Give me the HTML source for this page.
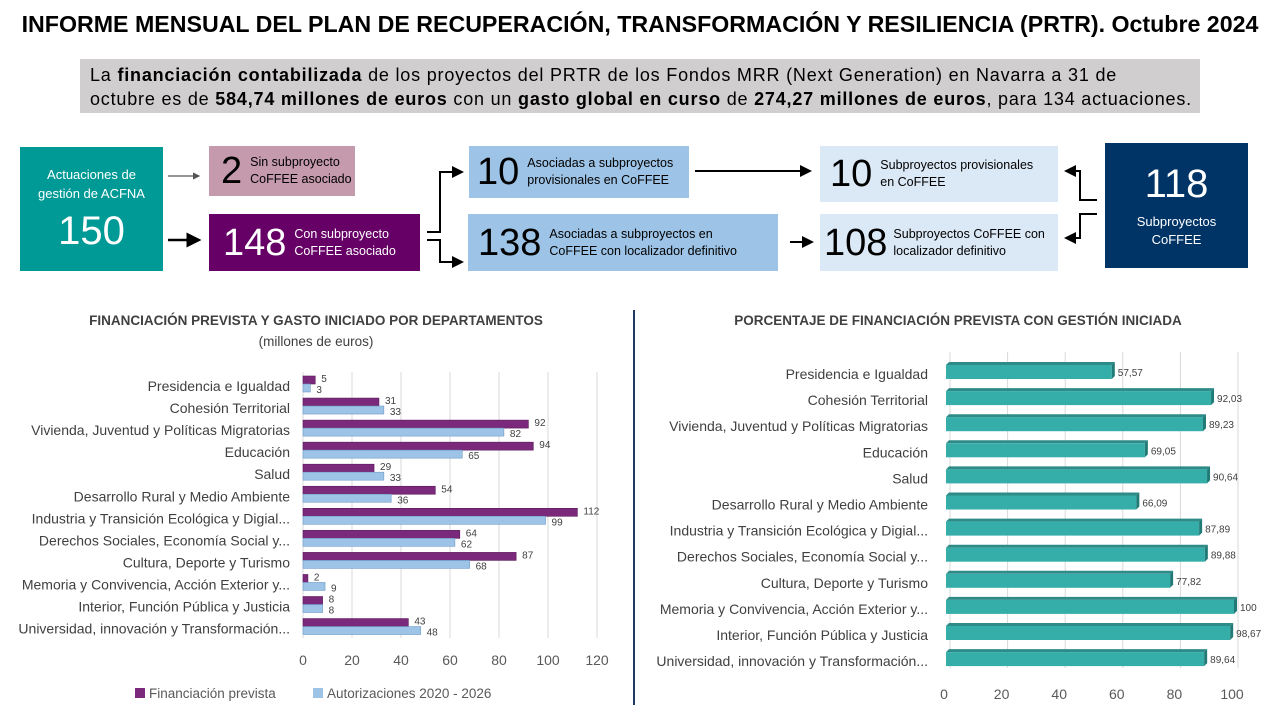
<!DOCTYPE html>
<html><head><meta charset="utf-8">
<style>
body{margin:0;width:1280px;height:720px;background:#fff;font-family:"Liberation Sans",sans-serif;overflow:hidden;position:relative}
.abs{position:absolute}
.box{position:absolute;display:flex;align-items:center;box-sizing:border-box}
.num{font-size:38px;line-height:1}
.lbl{font-size:12.5px;line-height:17px;margin-left:8px}
</style></head><body>
<div class="abs" style="left:0;width:1280px;top:11px;text-align:center;font-weight:bold;font-size:23.2px;white-space:nowrap">INFORME MENSUAL DEL PLAN DE RECUPERACIÓN, TRANSFORMACIÓN Y RESILIENCIA (PRTR). Octubre 2024</div>
<div class="abs" style="left:80px;top:59px;width:1120px;height:54px;background:#d0cece;font-size:18px;line-height:24px;padding:4px 10px;box-sizing:border-box;white-space:nowrap;letter-spacing:0.8px">La <b>financiación contabilizada</b> de los proyectos del PRTR de los Fondos MRR (Next Generation) en Navarra a 31 de<br>octubre es de <b>584,74 millones de euros</b> con un <b>gasto global en curso</b> de <b>274,27 millones de euros</b>, para 134 actuaciones.</div>

<div class="box" style="left:20px;top:147px;width:143px;height:124px;background:#009a96;color:#fff;flex-direction:column;justify-content:center;text-align:center;"><div style="font-size:13px;line-height:19px">Actuaciones de<br>gestión de ACFNA</div><div style="font-size:40px;margin-top:6px">150</div></div>
<div class="box" style="left:209px;top:146px;width:146px;height:50px;background:#c49aac;padding-left:12px"><span class="num">2</span><span class="lbl">Sin subproyecto<br>CoFFEE asociado</span></div>
<div class="box" style="left:209px;top:214px;width:211px;height:57px;background:#660066;color:#fff;padding-left:14px"><span class="num">148</span><span class="lbl">Con subproyecto<br>CoFFEE asociado</span></div>
<div class="box" style="left:469px;top:146px;width:220px;height:52px;background:#9dc3e6;padding-left:8px"><span class="num">10</span><span class="lbl">Asociadas a subproyectos<br>provisionales en CoFFEE</span></div>
<div class="box" style="left:468px;top:214px;width:310px;height:57px;background:#9dc3e6;padding-left:10px"><span class="num">138</span><span class="lbl">Asociadas a subproyectos en<br>CoFFEE con localizador definitivo</span></div>
<div class="box" style="left:820px;top:146px;width:238px;height:56px;background:#dbe8f6;padding-left:10px"><span class="num">10</span><span class="lbl">Subproyectos provisionales<br>en CoFFEE</span></div>
<div class="box" style="left:820px;top:214px;width:238px;height:57px;background:#dbe8f6;padding-left:4px"><span class="num">108</span><span class="lbl" style="margin-left:6px">Subproyectos CoFFEE con<br>localizador definitivo</span></div>
<div class="box" style="left:1105px;top:143px;width:143px;height:125px;background:#003366;color:#fff;flex-direction:column;justify-content:center;text-align:center;"><div style="font-size:40px">118</div><div style="font-size:13px;line-height:18px;margin-top:6px">Subproyectos<br>CoFFEE</div></div>

<svg class="abs" style="left:0;top:0" width="1280" height="300">
<defs><marker id="ah" markerWidth="6" markerHeight="6" refX="5" refY="3" orient="auto"><path d="M0,0L6,3L0,6z" fill="#000"/></marker>
<marker id="ahg" markerWidth="6" markerHeight="6" refX="5" refY="3" orient="auto"><path d="M0,0L6,3L0,6z" fill="#555"/></marker></defs>
<g fill="none" stroke-width="2.5" stroke="#000">
<line x1="168" y1="176" x2="199" y2="176" stroke="#555" stroke-width="1.2" marker-end="url(#ahg)"/>
<line x1="168" y1="240" x2="199" y2="240" marker-end="url(#ah)"/>
<polyline points="427,232 440,232 440,172 462,172" marker-end="url(#ah)" stroke-width="2"/>
<polyline points="427,240 440,240 440,262 462,262" marker-end="url(#ah)" stroke-width="2"/>
<line x1="695" y1="171" x2="810" y2="171" marker-end="url(#ah)" stroke-width="2"/>
<line x1="790" y1="242" x2="812" y2="242" marker-end="url(#ah)" stroke-width="2"/>
<polyline points="1097,200 1080,200 1080,171 1066,171" marker-end="url(#ah)" stroke-width="2"/>
<polyline points="1097,214 1080,214 1080,238 1066,238" marker-end="url(#ah)" stroke-width="2"/>
</g></svg>

<div class="abs" style="left:633px;top:310px;width:2px;height:395px;background:#1f3864"></div>

<svg class="abs" style="left:0;top:0" width="1280" height="720" id="charts"></svg>

<script>
const categories=["Presidencia e Igualdad","Cohesión Territorial","Vivienda, Juventud y Políticas Migratorias","Educación","Salud","Desarrollo Rural y Medio Ambiente","Industria y Transición Ecológica y Digial...","Derechos Sociales, Economía Social y...","Cultura, Deporte y Turismo","Memoria y Convivencia, Acción Exterior y...","Interior, Función Pública y Justicia","Universidad, innovación y Transformación..."];
const financiacion=[5,31,92,94,29,54,112,64,87,2,8,43];
const autorizaciones=[3,33,82,65,33,36,99,62,68,9,8,48];
const porcentaje=[57.57,92.03,89.23,69.05,90.64,66.09,87.89,89.88,77.82,100,98.67,89.64];
const leftTicks=[0,20,40,60,80,100,120];
const rightTicks=[0,20,40,60,80,100];

const NS="http://www.w3.org/2000/svg";
const svg=document.getElementById('charts');
function mk(tag,attrs,text){const e=document.createElementNS(NS,tag);for(const k in attrs)e.setAttribute(k,attrs[k]);if(text!==undefined)e.textContent=text;svg.appendChild(e);return e;}
const fmt=v=>String(v).replace('.',',');

// Left chart
const lx=v=>303+v*2.45;
const ly=i=>386+i*22.05;
let t=mk('text',{x:316,y:325,'text-anchor':'middle','font-size':13.5,'font-weight':'bold',fill:'#404040'},'FINANCIACIÓN PREVISTA Y GASTO INICIADO POR DEPARTAMENTOS');

t=mk('text',{x:316,y:346,'text-anchor':'middle','font-size':13.5,fill:'#404040'},'(millones de euros)');

leftTicks.forEach(v=>{
  let g=mk('line',{x1:lx(v),y1:372,x2:lx(v),y2:638,stroke:'#d9d9d9','stroke-width':1});
  
  let tk=mk('text',{x:lx(v),y:665,'text-anchor':'middle','font-size':14,fill:'#595959'},v);
  
});
categories.forEach((c,i)=>{
  const y=ly(i);
  let l=mk('text',{x:290,y:y+5,'text-anchor':'end','font-size':14,fill:'#404040'},c);
  
  let b1=mk('rect',{x:lx(0),y:y-10,width:lx(financiacion[i])-lx(0),height:8,fill:'#7b2a7b',stroke:'#5c1a5c','stroke-width':0.6});
  
  let b2=mk('rect',{x:lx(0),y:y-2,width:lx(autorizaciones[i])-lx(0),height:8,fill:'#9dc3e6',stroke:'#6f9cc8','stroke-width':0.6});
  
  let v1=mk('text',{x:lx(financiacion[i])+6,y:y-4,'font-size':10,fill:'#404040'},financiacion[i]);
  
  let v2=mk('text',{x:lx(autorizaciones[i])+6,y:y+7,'font-size':10,fill:'#404040'},autorizaciones[i]);
  
});
let lg=mk('rect',{x:135,y:688,width:10,height:10,fill:'#7b2a7b'});
lg=mk('text',{x:149,y:698,'font-size':13.5,fill:'#595959'},'Financiación prevista');
lg=mk('rect',{x:313,y:688,width:10,height:10,fill:'#9dc3e6'});
lg=mk('text',{x:327,y:698,'font-size':13.5,fill:'#595959'},'Autorizaciones 2020 - 2026');

// Right chart
const rx=v=>946+v*2.88;
const ry=i=>369+i*26.1;
t=mk('text',{x:958,y:325,'text-anchor':'middle','font-size':13.5,'font-weight':'bold',fill:'#404040'},'PORCENTAJE DE FINANCIACIÓN PREVISTA CON GESTIÓN INICIADA');

rightTicks.forEach(v=>{
  let g=mk('line',{x1:rx(v)+4,y1:352,x2:rx(v)+4,y2:668,stroke:'#d9d9d9','stroke-width':1});
  
  let tk=mk('text',{x:rx(v)-2,y:699,'text-anchor':'middle','font-size':14,fill:'#595959'},v);
  
});
categories.forEach((c,i)=>{
  const y=ry(i);
  let l=mk('text',{x:928,y:y+10,'text-anchor':'end','font-size':14,fill:'#404040'},c);
  
  const w=rx(porcentaje[i])-rx(0);
  let top=mk('polygon',{points:`${rx(0)},${y-4} ${rx(0)+3},${y-7} ${rx(0)+w+3},${y-7} ${rx(0)+w},${y-4}`,fill:'#2e8b87'});
  
  let b=mk('rect',{x:rx(0),y:y-4,width:w,height:14,fill:'#35aeaa'});
  
  let side=mk('polygon',{points:`${rx(0)+w},${y-4} ${rx(0)+w+3},${y-7} ${rx(0)+w+3},${y+7} ${rx(0)+w},${y+10}`,fill:'#227a76'});
  
  let v=mk('text',{x:rx(porcentaje[i])+6,y:y+7,'font-size':10,fill:'#404040'},fmt(porcentaje[i]));
  
});
</script>
</body></html>
